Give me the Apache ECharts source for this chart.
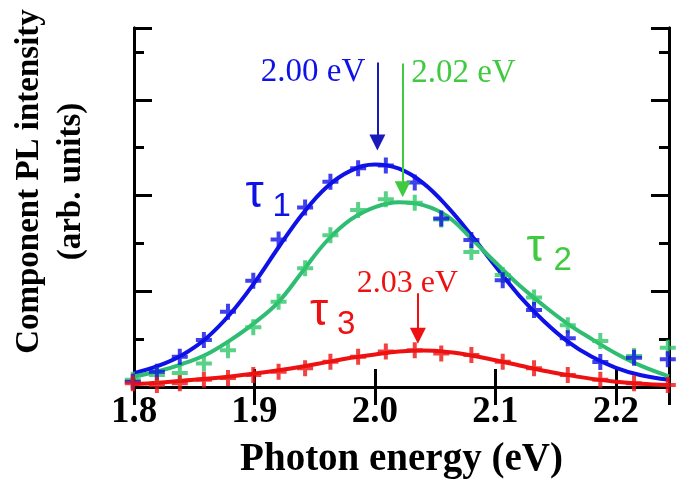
<!DOCTYPE html>
<html><head><meta charset="utf-8">
<script src="https://cdn.jsdelivr.net/npm/echarts@6/dist/echarts.min.js"></script>
<style>html,body{margin:0;padding:0;background:#fff}#c{width:685px;height:492px}</style>
</head><body><div id="c"></div>
<script>
// ---- data ----
const energies = [1.799,1.819,1.838,1.858,1.878,1.899,1.920,1.942,1.963,1.986,2.009,2.033,2.055,2.080,2.106,2.132,2.160,2.187,2.215,2.243];
const tau1Data = [0.11,0.32,0.63,0.98,1.57,2.22,3.08,3.75,4.29,4.57,4.63,4.27,3.52,3.07,2.23,1.61,1.02,0.52,0.61,0.58];
const tau2Data = [0.15,0.25,0.29,0.49,0.77,1.25,1.78,2.48,3.17,3.70,3.92,3.85,3.50,2.82,2.34,1.87,1.29,0.96,0.65,0.82];
const tau3Data = [0.08,0.04,0.08,0.15,0.19,0.25,0.32,0.39,0.53,0.63,0.74,0.77,0.70,0.67,0.53,0.39,0.25,0.15,0.08,0.04];

const fitEnergies = [1.80,1.82,1.84,1.86,1.88,1.90,1.92,1.94,1.96,1.98,2.00,2.02,2.04,2.06,2.08,2.10,2.12,2.14,2.16,2.18,2.20,2.22,2.244];
const tau1Fit = [0.29,0.44,0.67,1.02,1.53,2.18,2.92,3.62,4.18,4.52,4.65,4.56,4.26,3.77,3.17,2.52,1.90,1.38,0.95,0.63,0.40,0.25,0.15];
const tau2Fit = [0.22,0.33,0.48,0.68,0.98,1.34,1.78,2.42,3.05,3.50,3.76,3.86,3.80,3.57,3.10,2.60,2.12,1.70,1.32,1.00,0.70,0.45,0.22];
const tau3Fit = [0.06,0.09,0.13,0.17,0.22,0.28,0.35,0.43,0.52,0.61,0.68,0.74,0.76,0.73,0.66,0.56,0.45,0.34,0.25,0.17,0.11,0.07,0.04];

const seriesNames = ['τ1','τ2','τ3'];
const peakLabels = ['2.00 eV','2.02 eV','2.03 eV'];
// arrow [x, yTop, yEnd] in data units
const peakArrows = [[2.002,6.78,5.11],[2.023,6.76,4.13],[2.0356,1.96,1.07]];
const xName = 'Photon energy (eV)';
const yName = 'Component PL intensity\n(arb. units)';

const C = {
  blue:'#0f12e6', blueArrow:'#1a1ab8', green:'#2ebd72', greenMk:'#2fc76a', greenTxt:'#3fca3f', red:'#ee1111'
};
const plus = 'path://M3,0H5V3H8V5H5V8H3V5H0V3H3Z';
const pair = (xs, ys) => xs.map((x,i)=>[x, ys[i]]);

const chart = echarts.init(document.getElementById('c'), null, {renderer:'canvas'});
const axisCommon = {
  axisLine:{show:true, lineStyle:{color:'#000', width:3}},
  splitLine:{show:false},
};
const serif = 'Liberation Serif, Times New Roman, serif';
const opt = {
  animation:false,
  backgroundColor:'#fff',
  grid:{left:129, right:16, top:28, bottom:105},
  xAxis:[
    Object.assign({type:'value', position:'bottom', min:1.8, max:2.244, interval:0.1,
      axisTick:{inside:true, length:18, lineStyle:{color:'#000', width:3}},
      axisLabel:{color:'#000', fontFamily:serif, fontWeight:'bold', fontSize:37, margin:7,
        showMaxLabel:false, formatter:v=>v.toFixed(1)},
      name:xName, nameLocation:'middle', nameGap:53,
      nameTextStyle:{color:'#000', fontFamily:serif, fontWeight:'bold', fontSize:39}}, axisCommon),
    Object.assign({type:'value', position:'top', min:1.8, max:2.244, interval:0.1,
      axisTick:{inside:true, length:18, lineStyle:{color:'#000', width:3}},
      axisLabel:{show:false}}, axisCommon)
  ],
  yAxis:[
    Object.assign({type:'value', position:'left', min:0, max:7.5, interval:1,
      axisTick:{inside:true, length:10, lineStyle:{color:'#000', width:3}},
      axisLabel:{show:false},
      name:yName, nameLocation:'middle', nameGap:42,
      nameTextStyle:{color:'#000', fontFamily:serif, fontWeight:'bold', fontSize:33, lineHeight:42, padding:[0,0,0,52]}}, axisCommon),
    Object.assign({type:'value', position:'left', min:0, max:7.5, interval:2,
      axisTick:{inside:true, length:18, lineStyle:{color:'#000', width:3}}, axisLabel:{show:false}}, axisCommon),
    Object.assign({type:'value', position:'right', min:0, max:7.5, interval:1,
      axisTick:{inside:true, length:10, lineStyle:{color:'#000', width:3}}, axisLabel:{show:false}}, axisCommon),
    Object.assign({type:'value', position:'right', min:0, max:7.5, interval:2,
      axisTick:{inside:true, length:18, lineStyle:{color:'#000', width:3}}, axisLabel:{show:false}}, axisCommon)
  ],
  series:[
    {name:seriesNames[0]+' fit', type:'line', smooth:0.4, showSymbol:false, data:pair(fitEnergies,tau1Fit),
      lineStyle:{color:C.blue, width:4}, z:2,
      markLine:{silent:true, symbol:['none','triangle'], symbolSize:16, label:{show:false},
        lineStyle:{color:C.blueArrow, width:2, type:'solid'},
        data:[[{coord:[peakArrows[0][0],peakArrows[0][1]]},{coord:[peakArrows[0][0],peakArrows[0][2]]}]]}},
    {name:seriesNames[1]+' fit', type:'line', smooth:0.4, showSymbol:false, data:pair(fitEnergies,tau2Fit),
      lineStyle:{color:C.green, width:4}, z:2,
      markLine:{silent:true, symbol:['none','triangle'], symbolSize:16, label:{show:false},
        lineStyle:{color:C.greenTxt, width:2, type:'solid'},
        data:[[{coord:[peakArrows[1][0],peakArrows[1][1]]},{coord:[peakArrows[1][0],peakArrows[1][2]]}]]}},
    {name:seriesNames[2]+' fit', type:'line', smooth:0.4, showSymbol:false, data:pair(fitEnergies,tau3Fit),
      lineStyle:{color:C.red, width:4}, z:2,
      markLine:{silent:true, symbol:['none','triangle'], symbolSize:16, label:{show:false},
        lineStyle:{color:C.red, width:2, type:'solid'},
        data:[[{coord:[peakArrows[2][0],peakArrows[2][1]]},{coord:[peakArrows[2][0],peakArrows[2][2]]}]]}},
    {name:seriesNames[1], type:'scatter', symbol:plus, symbolSize:16, clip:false, z:3,
      itemStyle:{color:C.greenMk}, data:pair(energies,tau2Data)},
    {name:seriesNames[0], type:'scatter', symbol:plus, symbolSize:16, clip:false, z:4,
      itemStyle:{color:C.blue}, data:pair(energies,tau1Data)},
    {name:seriesNames[2], type:'scatter', symbol:plus, symbolSize:16, clip:false, z:5,
      itemStyle:{color:C.red}, data:pair(energies,tau3Data)}
  ]
};
chart.setOption(opt);

// annotations placed through the chart's own coordinate conversion
const px = (x,y) => chart.convertToPixel({xAxisIndex:0, yAxisIndex:0}, [x,y]);
const txt = (p, text, color, size, family, align, extra) => Object.assign({
  type:'text', x:p[0], y:p[1], z:10, silent:true,
  style:{text:text, fill:color, font:size+'px '+family, textAlign:align, textVerticalAlign:'middle'}
}, extra||{});
const sans = 'Liberation Sans, Arial, sans-serif';
const g = [];
g.push(txt(px(1.992,6.58), peakLabels[0], C.blue, 33, serif, 'right'));
g.push(txt(px(2.030,6.56), peakLabels[1], C.greenTxt, 33, serif, 'left'));
g.push(txt(px(2.027,2.17), peakLabels[2], C.red, 32, serif, 'center'));
const tauPos = [[1.8926,4.03,C.blue],[2.1258,2.90,C.greenTxt],[1.946,1.57,C.red]];
tauPos.forEach((t,i)=>{
  const p = px(t[0],t[1]);
  g.push(txt(p, 'τ', t[2], 46, sans, 'left'));
  g.push(txt([p[0]+27, p[1]+13], String(i+1), t[2], 33, sans, 'left'));
});
chart.setOption({graphic:g});
</script>
</body></html>
